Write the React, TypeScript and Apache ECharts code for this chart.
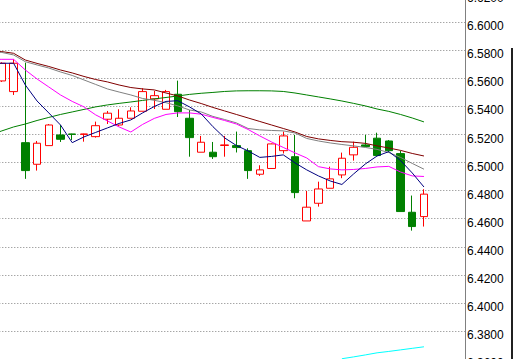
import React, { useEffect, useRef } from "react";
import * as echarts from "echarts";

// Bar slots: slot 0 is just left of the visible area, 1..37 are the visible candles, 38..40 are the empty right margin
const categories = [
  "b0", "b1", "b2", "b3", "b4", "b5", "b6", "b7", "b8", "b9", "b10",
  "b11", "b12", "b13", "b14", "b15", "b16", "b17", "b18", "b19", "b20",
  "b21", "b22", "b23", "b24", "b25", "b26", "b27", "b28", "b29", "b30",
  "b31", "b32", "b33", "b34", "b35", "b36", "b37", "b38", "b39", "b40",
];

const opens = [null,
  6.5582, 6.5506, 6.5142, 6.4988, 6.5121, 6.5197, 6.5204, 6.5201, 6.5185, 6.5309,
  6.5268, 6.5316, 6.5366, 6.5454, 6.5380, 6.5487, 6.5316, 6.5074, 6.5074, 6.5122,
  6.5121, 6.5085, 6.4917, 6.4958, 6.5085, 6.5042, 6.4584, 6.4710, 6.4817, 6.4912,
  6.5055, 6.5126, 6.5174, 6.5154, 6.5064, 6.4646, 6.4615];
const closes = [null,
  6.5708, 6.5708, 6.4943, 6.5138, 6.5268, 6.5166, 6.5201, 6.5204, 6.5263, 6.5352,
  6.5316, 6.5368, 6.5506, 6.5477, 6.5506, 6.5363, 6.5178, 6.5145, 6.5042, 6.5126,
  6.5107, 6.4943, 6.4948, 6.5133, 6.5190, 6.4786, 6.4682, 6.4812, 6.4884, 6.5031,
  6.5109, 6.5114, 6.5050, 6.5085, 6.4651, 6.4544, 6.4775];
const lows = [null,
  6.5575, 6.5482, 6.4884, 6.4943, 6.5121, 6.5147, 6.5161, 6.5149, 6.5178, 6.5275,
  6.5261, 6.5316, 6.5366, 6.5382, 6.5380, 6.5325, 6.5042, 6.5074, 6.5026, 6.5042,
  6.5072, 6.4884, 6.4905, 6.4955, 6.5065, 6.4746, 6.4584, 6.4686, 6.4817, 6.4889,
  6.5014, 6.5114, 6.5050, 6.5072, 6.4651, 6.4515, 6.4544];
const highs = [null,
  6.5715, 6.5736, 6.5712, 6.5154, 6.5275, 6.5268, 6.5206, 6.5206, 6.5292, 6.5368,
  6.5380, 6.5394, 6.5530, 6.5511, 6.5518, 6.5584, 6.5375, 6.5190, 6.5147, 6.5190,
  6.5221, 6.5102, 6.4981, 6.5136, 6.5221, 6.5197, 6.4798, 6.4864, 6.4971, 6.5071,
  6.5149, 6.5197, 6.5213, 6.5161, 6.5085, 6.4765, 6.4810];

const ma5 = [6.5708,
  6.5708, 6.5708, 6.5553, 6.5439, 6.5354, 6.5268, 6.5142, 6.5183, 6.5215, 6.5247,
  6.5279, 6.5304, 6.5354, 6.5400, 6.5436, 6.5441, 6.5397, 6.5347, 6.5256, 6.5176,
  6.5122, 6.5083, 6.5037, 6.5044, 6.5055, 6.4998, 6.4948, 6.4905, 6.4869, 6.4844,
  6.4919, 6.4990, 6.5047, 6.5078, 6.5015, 6.4926, 6.4826];
const ma10 = [6.5736,
  6.5736, 6.5736, 6.5660, 6.5596, 6.5539, 6.5482, 6.5436, 6.5397, 6.5340, 6.5297,
  6.5254, 6.5218, 6.5272, 6.5315, 6.5343, 6.5354, 6.5354, 6.5345, 6.5322, 6.5300,
  6.5275, 6.5236, 6.5190, 6.5147, 6.5108, 6.5069, 6.5033, 6.4971, 6.4955, 6.4948,
  6.4951, 6.4958, 6.4969, 6.4973, 6.4933, 6.4905, 6.4901];
const ma20 = [6.5792,
  6.5785, 6.5767, 6.5719, 6.5696, 6.5674, 6.5646, 6.5621, 6.5589, 6.5557, 6.5525,
  6.5503, 6.5482, 6.5457, 6.5444, 6.5427, 6.5404, 6.5375, 6.5361, 6.5329, 6.5307,
  6.5283, 6.5243, 6.5233, 6.5229, 6.5226, 6.5211, 6.5172, 6.5154, 6.5140, 6.5129,
  6.5119, 6.5108, 6.5094, 6.5072, 6.5037, 6.4994, 6.4953];
const ma30 = [6.5796,
  6.5791, 6.5779, 6.5731, 6.5707, 6.5685, 6.5660, 6.5639, 6.5614, 6.5592, 6.5575,
  6.5553, 6.5535, 6.5525, 6.5518, 6.5496, 6.5475, 6.5446, 6.5421, 6.5393, 6.5368,
  6.5343, 6.5318, 6.5293, 6.5268, 6.5243, 6.5218, 6.5186, 6.5169, 6.5158, 6.5149,
  6.5145, 6.5137, 6.5119, 6.5104, 6.5087, 6.5065, 6.5047];
const ma60 = [6.5197,
  6.5226, 6.5254, 6.5275, 6.5300, 6.5322, 6.5343, 6.5361, 6.5379, 6.5397, 6.5411,
  6.5422, 6.5432, 6.5443, 6.5454, 6.5464, 6.5475, 6.5486, 6.5494, 6.5500, 6.5507,
  6.5511, 6.5512, 6.5512, 6.5511, 6.5507, 6.5496, 6.5482, 6.5468, 6.5454, 6.5439,
  6.5422, 6.5404, 6.5382, 6.5365, 6.5343, 6.5318, 6.5290];
const maLong = [null,
  null, null, null, null, null, null, null, null, null, null,
  null, null, null, null, null, null, null, null, null, null,
  null, null, null, null, null, null, null, null, null, 6.3602,
  6.3615, 6.3629, 6.3644, 6.3654, 6.3665, 6.3676, 6.3687];

const yMin = 6.36;
const yMax = 6.62;
const yStep = 0.02;

export default function App() {
  const ref = useRef<HTMLDivElement>(null);
  useEffect(() => {
    if (!ref.current) return;
    const chart = echarts.init(ref.current, null, { renderer: "svg" });
    const candleData = categories.map((_, i) =>
      opens[i] != null && opens[i] !== undefined
        ? [opens[i], closes[i], lows[i], highs[i]]
        : "-"
    );
    const pad = (arr: (number | null)[]) =>
      categories.map((_, i) => (arr[i] == null ? "-" : arr[i]));
    const lineSeries = (data: (number | null)[], color: string) => ({
      type: "line",
      data: pad(data),
      showSymbol: false,
      symbol: "none",
      lineStyle: { color, width: 1 },
      itemStyle: { color },
      connectNulls: false,
    });
    chart.setOption({
      animation: false,
      backgroundColor: "#ffffff",
      grid: {
        left: -15.7,
        top: -5.77,
        width: 480.7,
        height: 364.77,
        containLabel: false,
        outerBoundsMode: "none",
      },
      xAxis: {
        type: "category",
        data: categories,
        boundaryGap: true,
        show: false,
      },
      yAxis: {
        type: "value",
        position: "right",
        min: yMin,
        max: yMax,
        interval: yStep,
        axisLine: { show: true, lineStyle: { color: "#808080", width: 1 } },
        axisTick: { show: false },
        axisLabel: {
          show: true,
          formatter: (v: number) => v.toFixed(4),
          color: "#000000",
          fontFamily: "Liberation Sans",
          fontSize: 12,
          margin: 2,
          verticalAlign: "top",
          lineHeight: 8,
          showMinLabel: true,
          showMaxLabel: true,
        },
        splitLine: {
          show: true,
          lineStyle: { color: "#808080", width: 1, type: [1, 2] },
        },
      },
      series: [
        {
          type: "candlestick",
          data: candleData,
          barWidth: 8,
          itemStyle: {
            color: "#ffffff",
            color0: "#008000",
            borderColor: "#ff0000",
            borderColor0: "#008000",
            borderWidth: 1,
          },
        },
        lineSeries(ma60, "#008000"),
        lineSeries(ma30, "#800000"),
        lineSeries(ma20, "#808080"),
        lineSeries(ma10, "#ff00ff"),
        lineSeries(ma5, "#000080"),
        lineSeries(maLong, "#00ffff"),
      ],
      graphic: [
        {
          type: "rect",
          shape: { x: 511, y: 48, width: 2, height: 311 },
          style: { fill: "#202020" },
          silent: true,
        },
      ],
    });
    return () => chart.dispose();
  }, []);
  return (
    <div
      ref={ref}
      style={{ position: "fixed", left: 0, top: 0, width: 513, height: 359, background: "#fff" }}
    />
  );
}
